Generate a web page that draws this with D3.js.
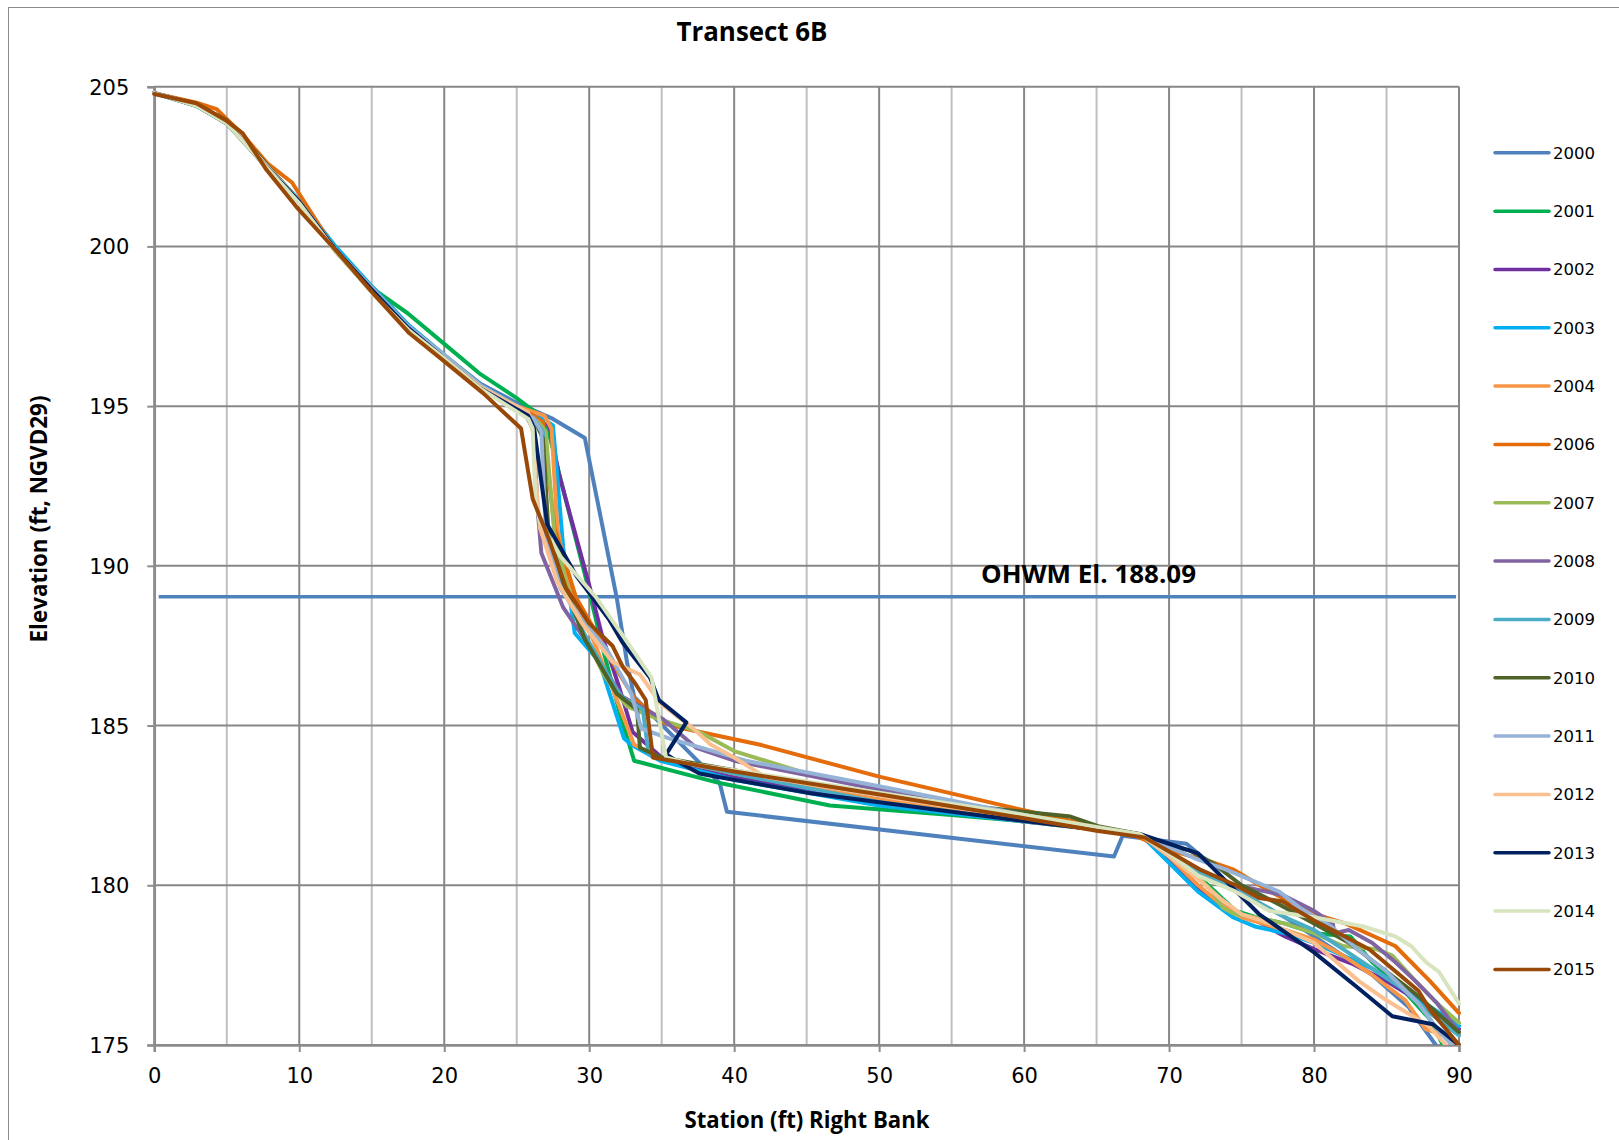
<!DOCTYPE html>
<html><head><meta charset="utf-8">
<script src="https://cdn.jsdelivr.net/npm/d3@7/dist/d3.min.js"></script>
<style>body{margin:0;background:#fff;} svg{display:block;}</style>
</head><body>
<svg id="c" width="1619" height="1140"></svg>
<script>
// ---------- data ----------
const years = ["2000","2001","2002","2003","2004","2006","2007","2008","2009","2010","2011","2012","2013","2014","2015"];
const colors = ["#4F81BD","#00B050","#7030A0","#00B0F0","#F79646","#E46C0A","#9BBB59","#8064A2","#4BACC6","#4F6228","#95B3D7","#FAC090","#002060","#D7E4BD","#984807"];

const d2000 = [[0,204.8],[2.9,204.45],[5,203.9],[7,202.9],[10,201.4],[12.5,199.9],[15,198.75],[17.5,197.55],[20,196.6],[22.5,195.7],[25,195.1],[27.5,194.6],[29.7,194.0],[31.9,189.0],[32.6,187.0],[33.1,185.9],[39.0,183.2],[39.5,182.3],[66.2,180.9],[66.8,181.55],[71.2,181.3],[72.8,180.7],[74.1,180.0],[76,179.5],[78,179.0],[80,178.4],[82,177.8],[84,177.2],[86.5,176.2],[88.4,175.0],[89,174.4]];
const d2001 = [[0,204.8],[2.9,204.45],[5,203.9],[7,202.9],[10,201.4],[12.5,199.9],[15,198.7],[17.5,197.9],[20,196.95],[22.5,196.0],[25,195.25],[26.6,194.7],[27.3,194.0],[30.0,189.2],[31.0,187.3],[32.1,185.4],[33.1,183.9],[39.0,183.2],[46.6,182.5],[55,182.2],[65,181.8],[68,181.6],[70,181.0],[72,180.3],[74.6,179.2],[76,179.0],[78,178.8],[80,178.5],[82.5,178.4],[84,177.6],[86,176.8],[88,175.8],[89,174.9],[90,174.5]];
const d2002 = [[0,204.8],[2.9,204.45],[5,203.9],[7,202.9],[10,201.4],[12.5,199.9],[15,198.7],[17.5,197.5],[20,196.55],[22.5,195.6],[25,194.95],[26.8,194.7],[27.3,194.3],[27.9,192.9],[30,189.4],[30.9,187.8],[32,186.3],[33.0,184.8],[35,184.0],[40,183.4],[50,182.6],[60,182.0],[65,181.8],[68,181.6],[70,180.8],[72,179.9],[73.9,179.3],[76.2,178.85],[78,178.4],[80,178.0],[82.6,177.55],[85,177.0],[87.5,176.3],[90,175.5]];
const d2003 = [[0,204.8],[2.9,204.4],[5,203.85],[7,202.9],[10,201.45],[12.5,200.0],[15,198.75],[17.5,197.55],[20,196.6],[22.5,195.65],[25,195.0],[26.5,194.7],[27.5,194.4],[28.2,190.6],[29.0,187.9],[30.7,187.0],[32.4,184.6],[32.9,184.4],[34.9,183.9],[40,183.3],[50,182.5],[60,182.0],[65,181.8],[68,181.6],[70,180.7],[72,179.8],[74.4,179.0],[76,178.7],[78,178.5],[80,178.2],[82,177.8],[84,177.4],[86,176.8],[88,176.2],[90,175.6]];
const d2004 = [[0,204.8],[2.9,204.45],[5,203.9],[7,202.9],[10,201.4],[12.5,199.9],[15,198.7],[17.5,197.5],[20,196.55],[22.5,195.6],[25,195.0],[26.9,194.7],[27.4,194.3],[27.8,191.2],[28.5,189.5],[30,188.0],[31.4,186.4],[33.1,184.4],[34.9,184.0],[40,183.5],[50,182.7],[60,182.0],[68,181.6],[70,180.9],[72,180.0],[73.6,179.4],[75,179.0],[78,178.6],[80,178.3],[82,177.8],[84,177.2],[86.3,176.4],[87.7,175.5],[89,175.3],[90,175.0]];
const d2006 = [[0,204.8],[2.9,204.5],[4.3,204.3],[6.1,203.5],[7.8,202.6],[9.5,202.0],[12.3,200.0],[15.1,198.6],[17.6,197.4],[19.9,196.5],[22.7,195.5],[26.0,194.75],[26.8,194.5],[27.6,191.2],[29.1,189.0],[30.5,187.9],[32.1,186.6],[33.2,185.8],[35.1,185.1],[36.6,184.9],[41.8,184.4],[50,183.4],[59.5,182.4],[67.4,181.6],[70,181.1],[72.8,180.75],[74.4,180.5],[77,179.8],[80,179.1],[82.2,178.8],[85.6,178.1],[88,177.0],[90,176.0]];
const d2007 = [[0,204.8],[2.9,204.45],[5,203.9],[7,202.85],[10,201.4],[12.5,199.85],[15,198.6],[17.5,197.45],[20,196.55],[22.5,195.6],[25,194.95],[26.5,194.5],[27.0,194.2],[27.6,191.0],[28.4,189.5],[29.5,188.0],[31.0,186.6],[32.6,185.6],[34.8,185.2],[37.6,184.8],[40,184.2],[45,183.5],[50,183.0],[60,182.2],[68,181.6],[70,181.1],[71.5,180.5],[73,179.8],[73.7,179.3],[74.5,179.1],[76,179.0],[78,178.8],[80,178.5],[82,178.1],[84.3,178.0],[85.4,177.8],[87,177.0],[88.5,176.3],[90,175.7]];
const d2008 = [[0,204.8],[2.9,204.45],[5,203.9],[7,202.9],[10,201.4],[12.5,199.9],[15,198.65],[17.5,197.45],[20,196.55],[22.5,195.6],[25.5,194.85],[26.2,194.2],[26.4,192.0],[26.7,190.4],[28.2,188.7],[30,187.5],[32.3,185.9],[33.9,185.5],[35.1,185.2],[37.4,184.3],[40,183.9],[50,183.0],[60,182.1],[68,181.6],[70,180.9],[72,180.3],[74.6,180.0],[77.8,179.7],[80,179.2],[81.3,178.8],[81.4,178.5],[82.4,178.6],[84,178.2],[85.6,177.6],[87,177.0],[88.5,176.3],[90,175.4]];
const d2009 = [[0,204.8],[2.9,204.45],[5,203.9],[7,202.9],[10,201.4],[12.5,199.9],[15,198.7],[17.5,197.5],[20,196.6],[22.5,195.65],[25,195.0],[26.2,194.6],[26.8,194.2],[27.0,191.5],[28,189.5],[29.5,188.0],[31,186.8],[32.2,185.9],[33.7,185.5],[34.1,184.1],[35,184.0],[40,183.5],[50,182.6],[60,182.0],[68,181.6],[70,181.0],[72,180.4],[74,180.0],[76,179.5],[78,179.0],[80,178.6],[82,178.0],[84,177.4],[86,176.8],[88,176.0],[90,175.3]];
const d2010 = [[0,204.8],[2.9,204.45],[5,203.95],[7,202.95],[10,201.4],[12.5,199.85],[15,198.6],[17.5,197.45],[20,196.55],[22.5,195.6],[25,194.95],[26.3,194.5],[26.8,194.0],[27.2,191.0],[28.2,189.5],[29.7,187.7],[31.9,186.0],[33.3,185.5],[33.5,184.3],[35,184.0],[40,183.6],[50,182.8],[60,182.3],[63.2,182.15],[65.1,181.85],[68,181.6],[70,181.2],[71.4,181.1],[73,180.7],[75,180.0],[77.6,179.4],[80,178.8],[82.4,178.2],[85,177.3],[87,176.6],[88.5,176.0],[90,175.4]];
const d2011 = [[0,204.8],[2.9,204.45],[5,203.9],[7,202.9],[10,201.4],[12.5,199.9],[15,198.7],[17.5,197.5],[20,196.6],[22.5,195.65],[25,195.0],[26.2,194.6],[26.7,194.2],[27.0,191.0],[28.0,189.3],[29.5,188.3],[31.2,187.4],[32.9,186.0],[33.6,184.9],[35.5,184.6],[40.8,183.9],[50,183.1],[60,182.2],[66,181.7],[68,181.6],[70,181.2],[72,180.8],[73.9,180.5],[76,180.1],[77.6,179.8],[79,179.3],[81.2,178.7],[83,178.0],[85,177.3],[87.2,176.3],[88.5,175.5],[89.5,175.0]];
const d2012 = [[0,204.8],[2.9,204.45],[5,203.9],[7,202.9],[10,201.4],[12.5,199.9],[15,198.65],[17.5,197.4],[20,196.5],[22.5,195.6],[25.8,194.8],[26.2,194.0],[26.3,192.8],[26.6,191.2],[27.8,189.5],[29.5,188.2],[31.6,187.0],[33.5,186.6],[34.9,185.7],[37.2,184.9],[38.4,184.4],[40,184.0],[42.1,183.4],[50,182.8],[60,182.1],[68,181.6],[70,180.9],[72,180.2],[73.5,179.6],[75,179.1],[77,178.8],[80,178.2],[83.1,177.0],[85,176.4],[87.9,175.6],[89.1,175.0],[90,174.6]];
const d2013 = [[0,204.8],[2.9,204.4],[5,203.85],[7,202.85],[10,201.4],[12.5,199.9],[15,198.65],[17.5,197.45],[20,196.5],[22.5,195.55],[25.8,194.7],[26.2,194.3],[27.1,191.3],[29.1,189.7],[31.4,188.3],[32.3,187.6],[34.2,186.5],[34.8,185.8],[36.7,185.1],[35.3,184.1],[36.0,183.9],[37.6,183.5],[38.8,183.4],[45,182.9],[55,182.3],[62,181.9],[68,181.6],[70,181.3],[72,181.0],[74,180.1],[76.2,179.1],[80,177.9],[83,176.8],[85.4,175.9],[88.2,175.65],[90,175.0]];
const d2014 = [[0,204.8],[2.9,204.4],[5,203.85],[7,202.85],[10,201.35],[12.5,199.85],[15,198.55],[17.5,197.4],[20,196.5],[22.5,195.55],[25.8,194.6],[26.1,194.3],[26.3,192.0],[26.6,191.4],[28,190.3],[30.5,189.0],[32.5,187.7],[34.3,186.5],[35.3,184.0],[37,183.8],[40,183.6],[50,182.9],[60,182.2],[68,181.6],[70,181.0],[72,180.3],[74.6,179.8],[76.9,179.2],[80,179.0],[83.5,178.7],[85.6,178.4],[86.7,178.1],[87.7,177.6],[88.6,177.3],[90,176.3]];
const d2015 = [[0,204.77],[2.9,204.48],[4.9,203.96],[6.1,203.54],[7.75,202.39],[9.8,201.24],[12.3,199.99],[15.1,198.53],[17.6,197.28],[19.9,196.44],[22.7,195.4],[25.3,194.3],[26.1,192.1],[27.25,190.8],[28.4,189.3],[30,188.2],[31.6,187.5],[32.3,186.85],[33.2,186.3],[33.9,185.8],[34.4,184.0],[40,183.56],[50.6,182.8],[60,182.1],[65.1,181.7],[68.3,181.5],[70,181.06],[72.1,180.5],[74.6,180.0],[76.2,179.6],[77.8,179.5],[80,178.9],[81.7,178.5],[83.8,178.0],[85.9,177.2],[87.2,176.7],[88.0,176.1],[90,175.0]];

const seriesData = [d2000,d2001,d2002,d2003,d2004,d2006,d2007,d2008,d2009,d2010,d2011,d2012,d2013,d2014,d2015];

const xTicks = [0,10,20,30,40,50,60,70,80,90];
const xMinor = [5,15,25,35,45,55,65,75,85];
const yTicks = [175,180,185,190,195,200,205];
const ohwmElev = 189.03;
const ohwmRange = [0.3, 89.8];
const ohwmLabel = "OHWM El. 188.09";
const titleText = "Transect 6B";
const xTitle = "Station (ft) Right Bank";
const yTitle = "Elevation (ft, NGVD29)";

// ---------- drawing ----------
const svg = d3.select("#c");
const L = 154.3, R = 1459, T = 86.7, B = 1045;
const x = d3.scaleLinear().domain([0,90]).range([L,R]);
const y = d3.scaleLinear().domain([175,205]).range([B,T]);

// outer chart border
svg.append("rect").attr("x",8.5).attr("y",7.5).attr("width",1700).attr("height",1300)
  .attr("fill","none").attr("stroke","#8c8c8c").attr("stroke-width",1);

// minor vertical grid
svg.append("g").selectAll("line").data(xMinor).join("line")
  .attr("x1",d=>x(d)).attr("x2",d=>x(d)).attr("y1",T).attr("y2",B)
  .attr("stroke","#bfbfbf").attr("stroke-width",2);
// major vertical grid
svg.append("g").selectAll("line").data(xTicks).join("line")
  .attr("x1",d=>x(d)).attr("x2",d=>x(d)).attr("y1",T).attr("y2",B)
  .attr("stroke","#878787").attr("stroke-width",2);
// horizontal grid
svg.append("g").selectAll("line").data(yTicks).join("line")
  .attr("x1",L).attr("x2",R).attr("y1",d=>y(d)).attr("y2",d=>y(d))
  .attr("stroke","#878787").attr("stroke-width",2);

// axes
const xAxis = svg.append("g").attr("transform",`translate(0,${B})`)
  .call(d3.axisBottom(x).tickValues(xTicks).tickSize(7).tickPadding(16).tickFormat(d3.format("d")));
const yAxis = svg.append("g").attr("transform",`translate(${L},0)`)
  .call(d3.axisLeft(y).tickValues(yTicks).tickSize(7).tickPadding(18).tickFormat(d3.format("d")));
[xAxis,yAxis].forEach(a=>{
  a.select(".domain").attr("stroke","#8c8c8c").attr("stroke-width",2.5);
  a.selectAll(".tick line").attr("stroke","#8c8c8c").attr("stroke-width",2);
  a.selectAll(".tick text").attr("font-family","'DejaVu Sans', sans-serif").attr("font-size",21).attr("fill","#000");
});
yAxis.selectAll(".tick text").attr("dy","0.36em");

// clip
svg.append("clipPath").attr("id","clip").append("rect")
  .attr("x",L-6).attr("y",T-6).attr("width",R-L+8).attr("height",B-T+6);

// OHWM line
svg.append("line").attr("x1",x(ohwmRange[0])).attr("x2",x(ohwmRange[1]))
  .attr("y1",y(ohwmElev)).attr("y2",y(ohwmElev))
  .attr("stroke","#4F81BD").attr("stroke-width",3.5);

// series
const line = d3.line().x(d=>x(d[0])).y(d=>y(d[1]));
const gLines = svg.append("g").attr("clip-path","url(#clip)");
seriesData.forEach((s,i)=>{
  gLines.append("path").attr("d",line(s)).attr("fill","none")
    .attr("stroke",colors[i]).attr("stroke-width",4)
    .attr("stroke-linejoin","round").attr("stroke-linecap","round");
});

// OHWM label
svg.append("text").attr("x",981).attr("y",583).text(ohwmLabel)
  .attr("font-family","'Liberation Sans Narrow','Open Sans',sans-serif").attr("font-weight","bold")
  .attr("font-size",25).attr("textLength",215).attr("lengthAdjust","spacingAndGlyphs");

// title
svg.append("text").attr("x",752).attr("y",41).attr("text-anchor","middle").text(titleText)
  .attr("font-family","'Liberation Sans Narrow','Open Sans',sans-serif").attr("font-weight","bold")
  .attr("font-size",27).attr("textLength",151).attr("lengthAdjust","spacingAndGlyphs");

// axis titles
svg.append("text").attr("x",807).attr("y",1128).attr("text-anchor","middle").text(xTitle)
  .attr("font-family","'Liberation Sans Narrow','Open Sans',sans-serif").attr("font-weight","bold")
  .attr("font-size",23).attr("textLength",245).attr("lengthAdjust","spacingAndGlyphs");
svg.append("text").attr("transform","translate(47,519) rotate(-90)").attr("text-anchor","middle").text(yTitle)
  .attr("font-family","'Liberation Sans Narrow','Open Sans',sans-serif").attr("font-weight","bold")
  .attr("font-size",23).attr("textLength",247).attr("lengthAdjust","spacingAndGlyphs");

// legend
const lg = svg.append("g");
years.forEach((yr,i)=>{
  const yy = 152.8 + i*58.33;
  lg.append("line").attr("x1",1495).attr("x2",1549).attr("y1",yy).attr("y2",yy)
    .attr("stroke",colors[i]).attr("stroke-width",3.5).attr("stroke-linecap","round");
  lg.append("text").attr("x",1553).attr("y",yy+6).text(yr)
    .attr("font-family","'DejaVu Sans', sans-serif").attr("font-size",16.5).attr("fill","#000");
});
</script>
</body></html>
